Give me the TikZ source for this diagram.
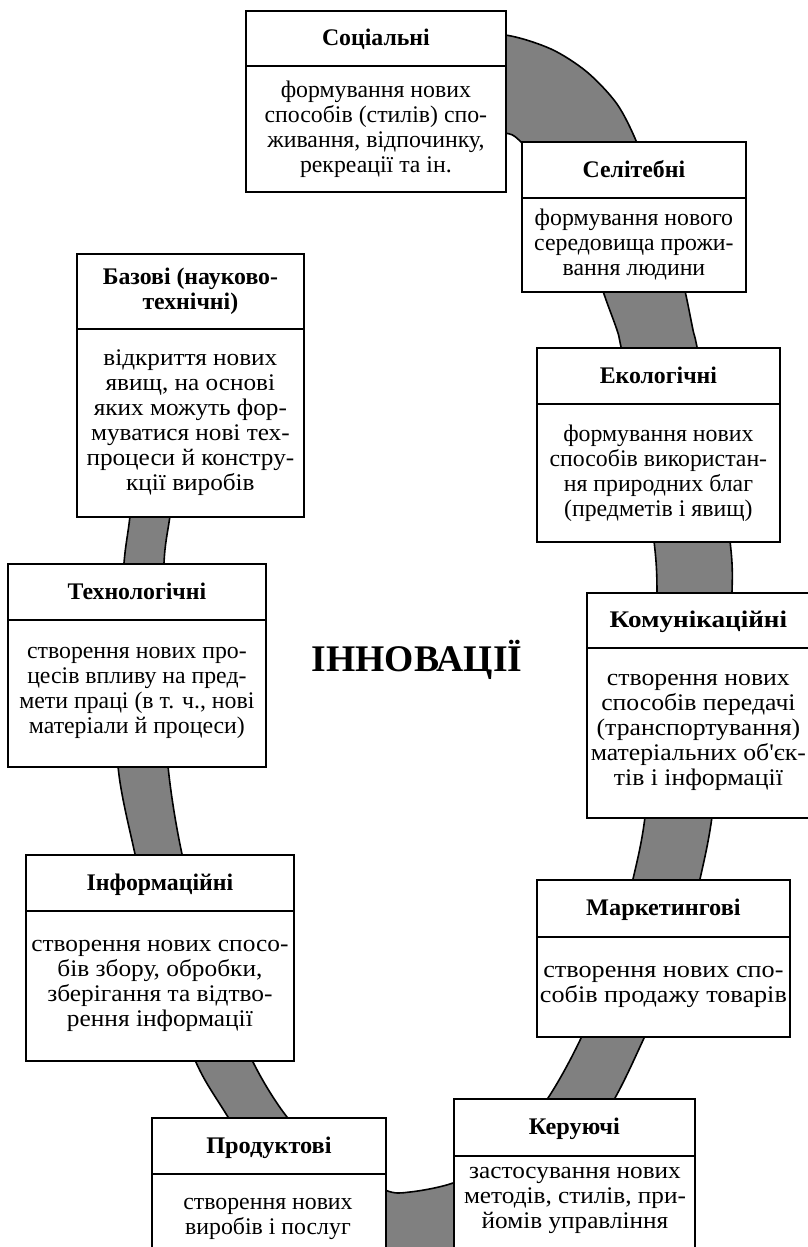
\documentclass[tikz,border=0pt]{standalone}
\usepackage{fontspec}
\setmainfont{Liberation Serif}[Ligatures=TeXOff]

% type sizes: 1pt of the picture is one unit of the grid
\newcommand\headfont{\bfseries\fontsize{23.8}{25}\selectfont}
\newcommand\bodyfont{\fontsize{23.8}{25}\selectfont}
% strut that gives every text block the same line box
\newcommand\linestrut{\rule[-5pt]{0pt}{25pt}}

% Two-part box: bold heading on top, description below.
% #1 extra options (widening of the type), #2 name, #3 left, #4 top,
% #5 right, #6 divider, #7 bottom, #8 heading, #9 description
\newcommand\innobox[9][]{%
  \node[headbox, #1, anchor=north west,
        minimum width={(#5-#3)*1pt}, minimum height={(#6-#4)*1pt}]
        (#2-head) at (#3,#4) {#8};
  \node[descbox, #1, anchor=north west,
        minimum width={(#5-#3)*1pt}, minimum height={(#7-#6)*1pt}]
        (#2-body) at (#3,#6) {#9};
}

\begin{document}
\begin{tikzpicture}[x=1pt, y=-1pt,
  hw/.store in=\headwiden, hw=1,
  bw/.store in=\bodywiden, bw=1,
  boxline/.style={draw=black, line width=1.8pt, fill=white},
  struts/.style={execute at begin node=\linestrut,
                 execute at end node=\linestrut},
  headbox/.style={boxline, struts, align=center, inner sep=0pt,
                  font=\headfont\addfontfeature{FakeStretch=\headwiden}},
  descbox/.style={boxline, struts, align=center, inner sep=0pt,
                  font=\bodyfont\addfontfeature{FakeStretch=\bodywiden}},
  desctext/.style={struts, align=center, inner sep=0pt,
                  font=\bodyfont\addfontfeature{FakeStretch=\bodywiden}},
  band/.style={fill=gray, draw=black, line width=1.6pt, line join=round},
  title/.style={font=\bfseries\fontsize{37.6}{40}\selectfont, inner sep=0pt}]

\clip (0,0) rectangle (808,1247);

% the grey ribbon that links the kinds of innovation into a ring
\path[band]
  plot[smooth] coordinates {
    (451,36) (505,35) (551,49) (587,72) (617,104) (637,143) (657,200)
    (674,250) (685,291) (693,330) (697,347) (715,440) (730,541) (732,592)
    (725,700) (712,817) (700,879) (680,960) (645,1036) (615,1098)
    (560,1190) (480,1262) (400,1280) (300,1230) (228,1117) (195,1060)
    (160,960) (135,854) (118,766) (118,660) (124,563) (130,516)
    (140,420) (150,360)}
  -- plot[smooth] coordinates {
    (190,360) (185,420) (170,516) (164,563) (163,660) (168,766)
    (182,854) (210,960) (252,1060) (287,1117) (330,1160) (385,1190)
    (410,1192) (453,1183) (500,1160) (548,1098) (582,1036) (612,960)
    (633,879) (645,817) (655,700) (657,592) (654,541) (640,440)
    (621,347) (617,330) (603,291) (590,245) (560,185) (520,141)
    (505,133) (468,130)}
  -- cycle;

\innobox{soc}{245}{10}{505}{65}{191}{Соціальні}
  {формування нових\\способів (стилів) спо-\\живання, відпочинку,\\рекреації та ін.}
\innobox{sel}{521}{141}{745}{197}{291}{Селітебні}
  {формування нового\\середовища прожи-\\вання людини}
\innobox[bw=1.06]{baz}{76}{253}{303}{328}{516}{Базові (науково-\\технічні)}
  {відкриття нових\\явищ, на основі\\яких можуть фор-\\муватися нові тех-\\процеси й констру-\\кції виробів}
\innobox{eko}{536}{347}{779}{403}{541}{Екологічні}
  {формування нових\\способів використан-\\ня природних благ\\(предметів і явищ)}
\innobox{teh}{7}{563}{265}{619}{766}{Технологічні}
  {створення нових про-\\цесів впливу на пред-\\мети праці (в т. ч., нові\\матеріали й процеси)}
\innobox[hw=1.14, bw=1.08]{kom}{586}{592}{809}{647}{817}{Комунікаційні}
  {створення нових\\способів передачі\\(транспортування)\\матеріальних об'єк-\\тів і інформації}
\innobox[bw=1.065]{inf}{25}{854}{293}{910}{1060}{Інформаційні}
  {створення нових спосо-\\бів збору, обробки,\\зберігання та відтво-\\рення інформації}
\innobox[hw=1.02, bw=1.10]{mar}{536}{879}{789}{936}{1036}{Маркетингові}
  {створення нових спо-\\собів продажу товарів}
\innobox[hw=1.02]{pro}{151}{1117}{385}{1173}{1300}{Продуктові}{}
\innobox[hw=1.02]{ker}{453}{1098}{694}{1155}{1300}{Керуючі}{}

\node[desctext] (pro-text) at (268,1218.5)
  {створення нових\\виробів і послуг};
\node[desctext, bw=1.06] (ker-text) at (575,1200.5)
  {застосування нових\\методів, стилів, при-\\йомів управління};

\node[title, anchor=base] (innov) at (417,671) {ІННОВАЦІЇ};

\end{tikzpicture}
\end{document}
